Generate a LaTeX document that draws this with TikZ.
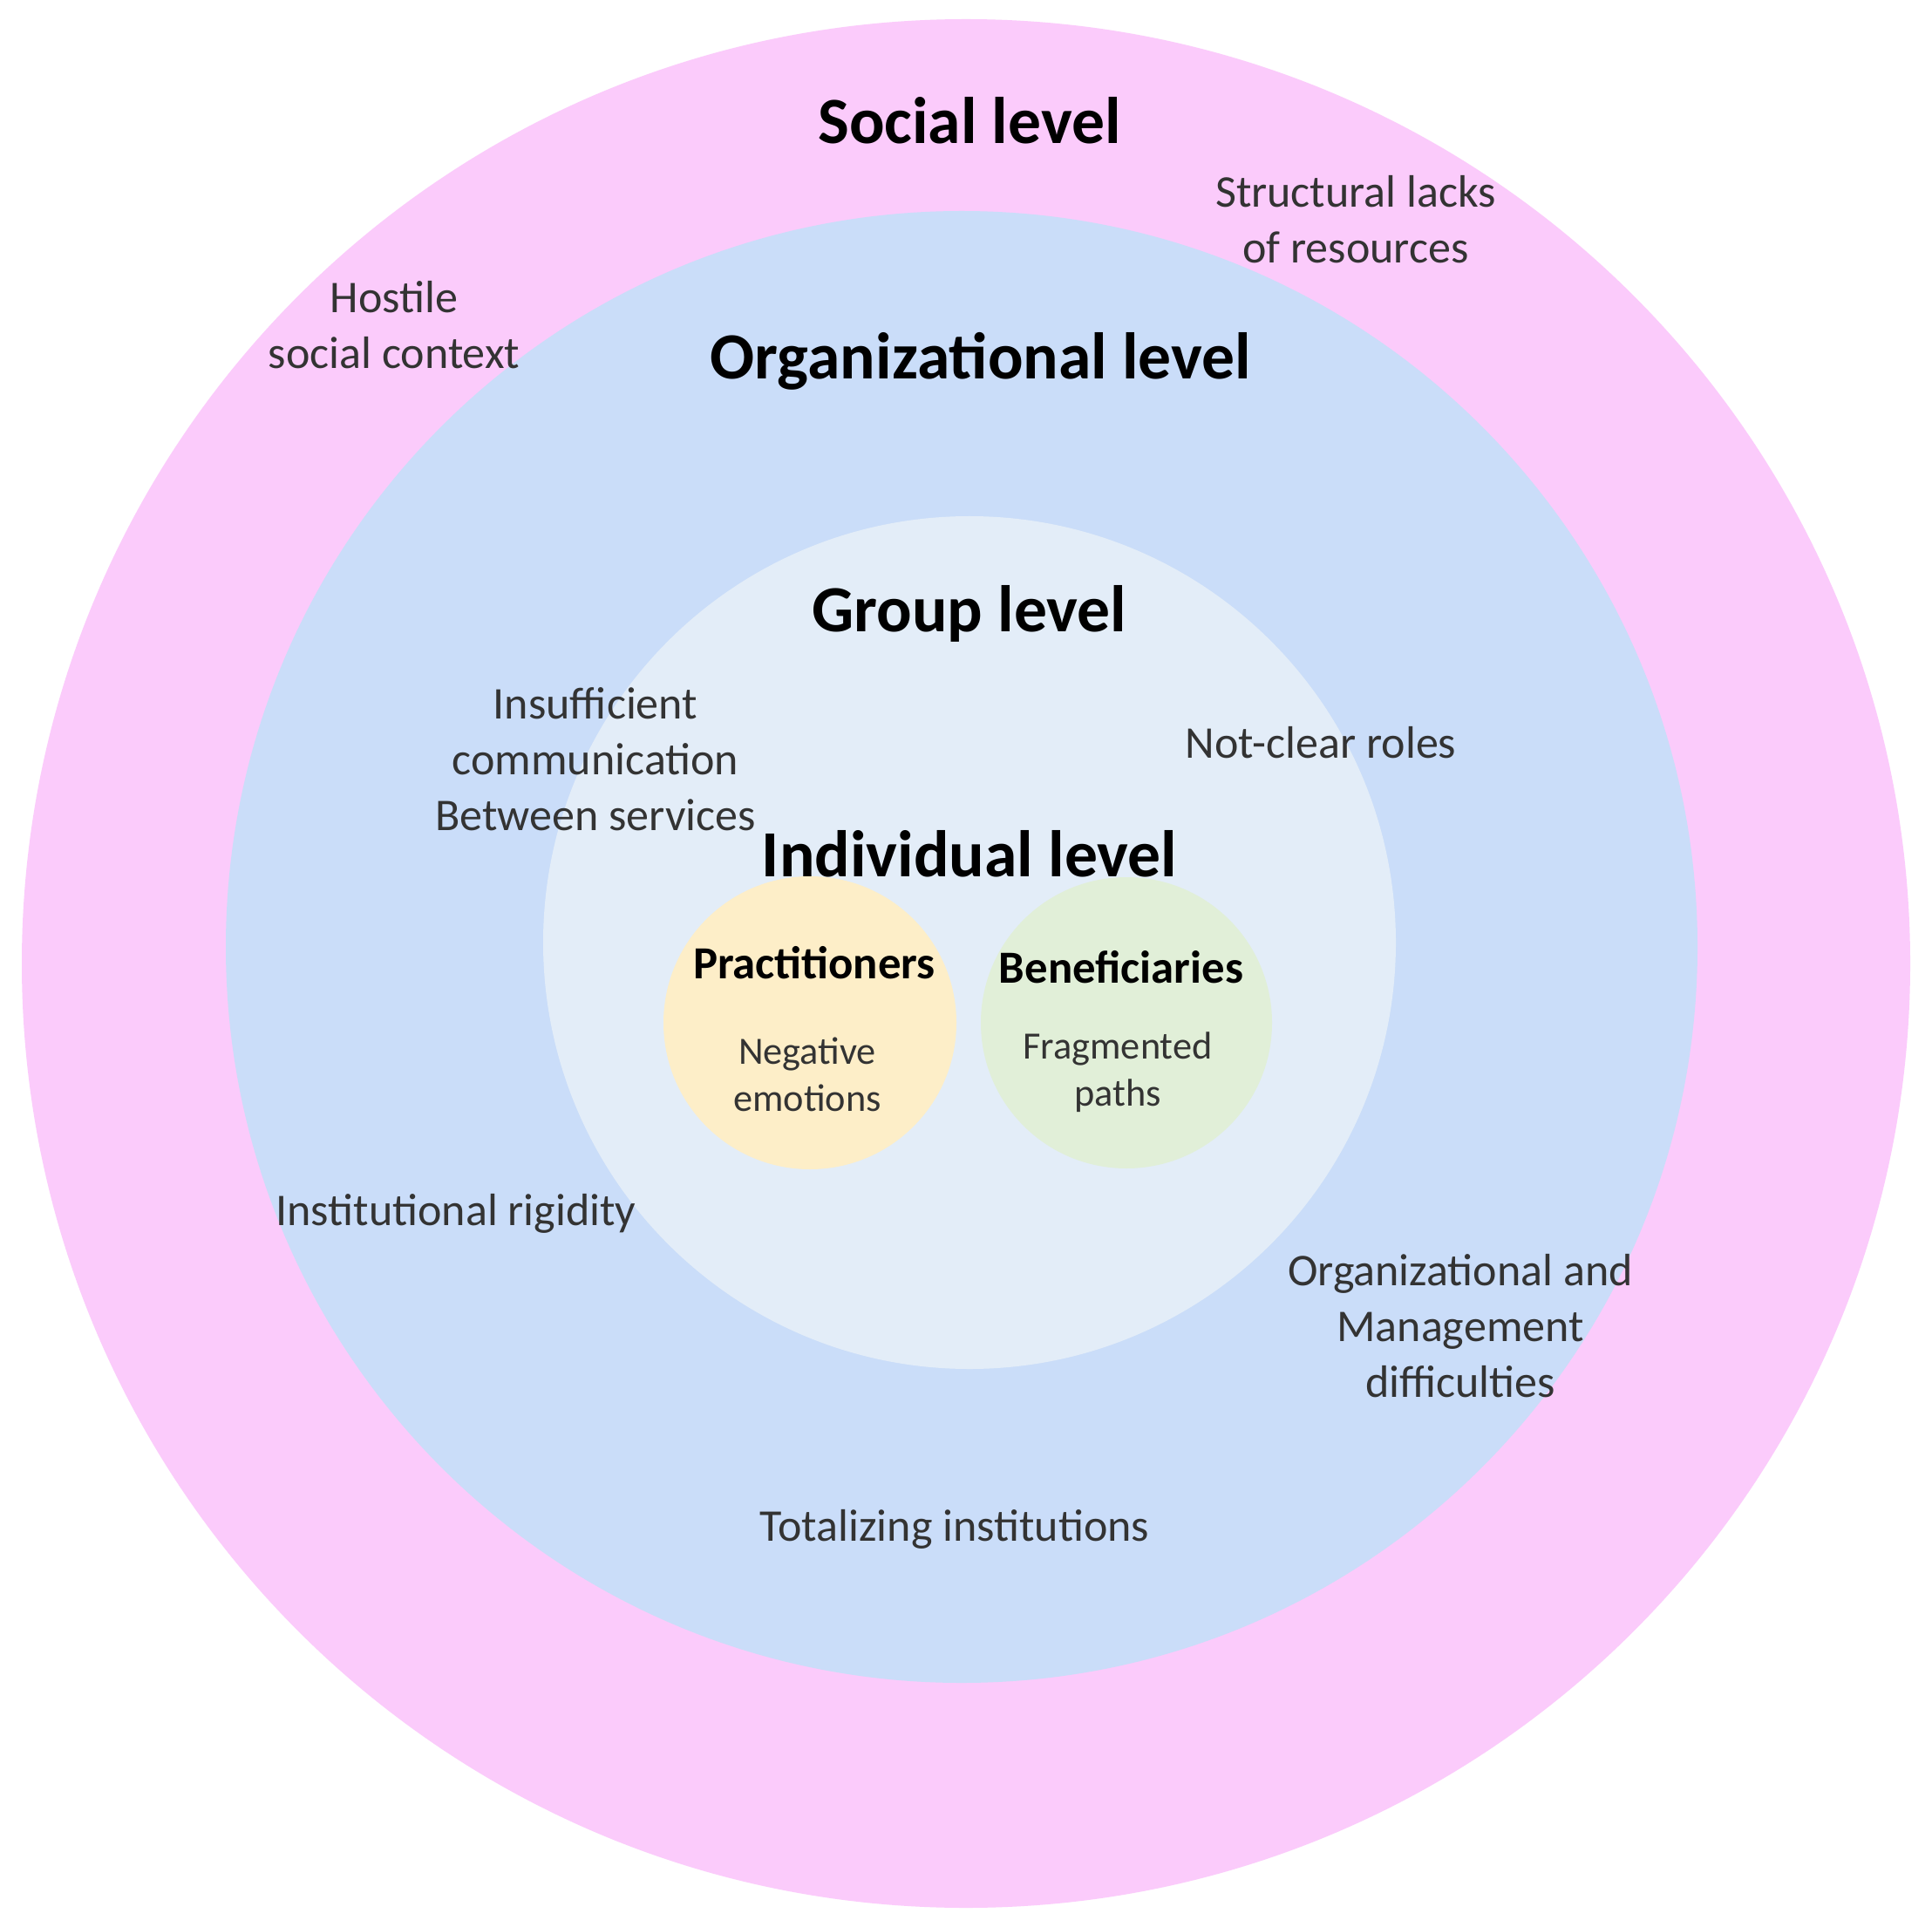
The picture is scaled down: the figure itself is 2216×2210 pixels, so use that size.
\documentclass[tikz,border=0pt]{standalone}
\usepackage{fontspec}
\setmainfont{Carlito}
\definecolor{pinkc}{HTML}{FBCBFB}
\definecolor{bluec}{HTML}{CADDF9}
\definecolor{innerc}{HTML}{E3EDF8}
\definecolor{yelc}{HTML}{FDEEC8}
\definecolor{grnc}{HTML}{E1EFD8}
\definecolor{txtc}{HTML}{333333}
\begin{document}
\begin{tikzpicture}[x=0.01cm,y=-0.01cm,
  head/.style={font=\fontsize{21.5}{26}\selectfont\bfseries, text=black, inner sep=0pt},
  lbl/.style={font=\fontsize{14.8}{18.2}\selectfont, text=txtc, align=center, inner sep=0pt},
  sub/.style={font=\fontsize{15}{18}\selectfont\bfseries, text=black, inner sep=0pt},
  small/.style={font=\fontsize{12.6}{15.4}\selectfont, text=txtc, align=center, inner sep=0pt}]
\useasboundingbox (0,0) rectangle (2216,2210);
\fill[white] (0,0) rectangle (2216,2210);
\fill[pinkc] (1108,1105) circle[radius=1083];
\fill[bluec] (1103,1086) circle[radius=844];
\fill[innerc] (1112,1081) circle[radius=489];
\fill[yelc] (929,1173) circle[radius=168];
\fill[grnc] (1292,1173) circle[radius=167];
\node[head] (social) at (1112,138) {Social level};
\node[lbl] (struct) at (1555,252) {Structural lacks\\of resources};
\node[lbl] (hostile) at (452,373) {Hostile\\social context};
\node[head] (org) at (1125,414) {Organizational level};
\node[head] (group) at (1112,704) {Group level};
\node[lbl] (insuff) at (683,871) {Insufficient\\communication\\Between services};
\node[lbl] (roles) at (1515,852) {Not-clear roles};
\node[head] (indiv) at (1112,979) {Individual level};
\node[sub] (pract) at (934,1104) {Practitioners};
\node[small] (neg) at (926,1232) {Negative\\emotions};
\node[sub] (benef) at (1286,1109) {Beneficiaries};
\node[small] (frag) at (1282,1230) {Fragmented\\paths};
\node[lbl] (rigid) at (523,1392) {Institutional rigidity};
\node[lbl] (mgmt) at (1675,1521) {Organizational and\\Management\\difficulties};
\node[lbl] (total) at (1095,1754) {Totalizing institutions};
\end{tikzpicture}
\end{document}
